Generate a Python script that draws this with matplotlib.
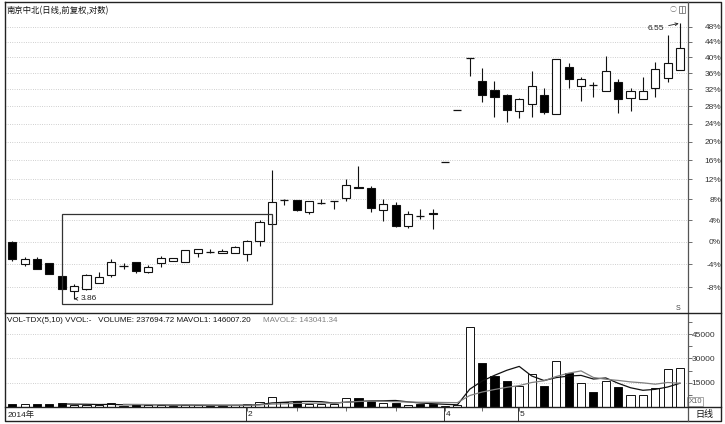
import numpy as np
import pandas as pd
import matplotlib
matplotlib.use("Agg")
import matplotlib.pyplot as plt
from matplotlib.patches import Rectangle

plt.rcParams['font.family'] = ['Liberation Sans', 'Noto Sans CJK SC', 'DejaVu Sans']

# ---------------- data (percent change vs. base, log scale) ----------------
OPEN = [0.0, -4.0, -3.2, -3.9, -6.0, -8.6, -8.3, -7.2, -5.9, -4.4,
        -3.7, -5.4, -3.8, -3.5, -3.6, -2.1, -1.9, -2.0, -2.0, -2.25,
        0.1, 3.2, 7.9, 7.9, 5.6, 7.3, 7.7, 8.2, 10.5, 10.2,
        5.9, 6.9, 2.9, 4.9, 5.3, 15.6, 27.2, 39.9, 34.0, 31.8,
        30.65, 27.0, 28.45, 30.65, 26.2, 37.6, 32.9, 33.1, 31.7, 33.9,
        30.0, 29.6, 32.3, 34.7, 36.75]
HIGH = [0.1, -2.8, -2.8, -3.9, -6.0, -7.5, -5.8, -5.4, -3.2, -3.9,
        -3.7, -4.2, -2.6, -3.0, -1.5, -1.4, -1.4, -1.4, -0.8, 0.3,
        4.0, 13.9, 8.1, 7.9, 7.7, 8.1, 7.7, 12.2, 14.8, 10.7,
        8.1, 7.4, 5.7, 6.2, 6.2, 15.6, 27.2, 39.9, 37.2, 34.1,
        30.9, 29.9, 36.6, 32.3, 39.4, 38.6, 34.9, 33.9, 40.3, 34.5,
        32.3, 34.9, 38.7, 45.8, 48.85]
LOW = [-3.5, -4.4, -4.8, -5.8, -8.5, -9.9, -8.5, -7.2, -6.3, -4.9,
       -5.6, -5.6, -4.6, -3.5, -3.6, -2.7, -2.1, -2.1, -2.0, -3.4,
       -0.8, 3.2, 6.9, 5.7, 5.1, 7.1, 6.05, 7.7, 10.2, 5.5,
       3.8, 2.7, 2.55, 4.2, 2.3, 15.6, 27.2, 35.3, 29.1, 25.6,
       24.4, 25.2, 25.6, 26.2, 26.2, 32.4, 29.3, 30.1, 31.7, 26.4,
       27.0, 29.6, 30.2, 33.9, 36.75]
CLOSE = [-3.2, -3.2, -4.8, -5.8, -8.35, -7.8, -5.9, -6.2, -3.7, -4.4,
         -5.2, -4.5, -2.9, -3.0, -1.5, -1.4, -1.9, -1.7, -1.05, 0.1,
         3.7, 7.4, 7.9, 5.9, 7.7, 7.3, 7.7, 10.9, 10.2, 6.4,
         7.2, 2.9, 5.1, 4.8, 5.1, 15.6, 27.2, 39.9, 30.65, 30.1,
         27.1, 29.6, 32.8, 26.7, 39.4, 34.5, 34.5, 33.0, 36.6, 29.6,
         31.6, 31.6, 36.9, 38.4, 42.3]
VOLUME = [20000, 18000, 19000, 17000, 22000, 12000, 15000, 10000, 22000, 9000,
          15000, 10000, 12000, 8000, 15000, 10000, 8000, 9000, 12000, 16000,
          29000, 60000, 29000, 35000, 20000, 20000, 18000, 56000, 56000, 39000,
          25000, 25000, 14000, 20000, 18000, 6000, 10000, 496000, 271000, 194000,
          162500, 129000, 202500, 129000, 285000, 209000, 150000, 90000, 162500, 121000,
          71000, 71000, 119000, 234000, 237694.72]

PCT_TICKS = [48, 44, 40, 36, 32, 28, 24, 20, 16, 12, 8, 4, 0, -4, -8]
PCT_YLIM = (-12.2, 54.8)
VOL_TICKS = [150000, 300000, 450000]
VOL_TICK_LABELS = ["15000", "30000", "45000"]
VOL_MINOR = [75000, 225000, 375000, 525000]
VOL_YMAX = 580000
MONTH_LABELS = ["2014年", "2", "4", "5"]
MONTH_IDX = [0, 19, 35, 41]
MINOR_IDX = [19, 23, 27, 31, 35, 38, 41]
LOW_LABEL, LOW_IDX = "3.86", 5
HIGH_LABEL, HIGH_IDX = "6.55", 54
BOX_START, BOX_END, BOX_LOW, BOX_HIGH = 4, 21, -10.7, 5.1
TITLE = "南京中北(日线,前复权,对数)"
VOL_HEADER = "VOL-TDX(5,10) VVOL:-   VOLUME: 237694.72 MAVOL1: 146007.20"
VOL_HEADER2 = "MAVOL2: 143041.34"


def T(p):
    return np.log1p(np.asarray(p, dtype=float) / 100.0)


W, H = 725, 424
fig = plt.figure(figsize=(W / 100, H / 100), dpi=100, facecolor='white')


def rect(x0, y0, x1, y1):
    return [x0 / W, 1 - y1 / H, (x1 - x0) / W, (y1 - y0) / H]


ax_p = fig.add_axes(rect(5, 2, 688, 313))
ax_v = fig.add_axes(rect(5, 313, 688, 407))
ax_d = fig.add_axes(rect(5, 407, 688, 421))
XLIM = (-0.59, 54.65)
n = len(CLOSE)
idx = np.arange(n)
o, h, l, c = (np.array(a, float) for a in (OPEN, HIGH, LOW, CLOSE))
v = np.array(VOLUME, float)
up = c >= o
BW = 0.66
EC = '#111111'
GRID = dict(color='#b4b4b4', lw=0.55, ls=(0, (1, 2)), zorder=0)

for ax in (ax_p, ax_v, ax_d):
    ax.set_xlim(*XLIM)
    for s in ax.spines.values():
        s.set_visible(False)
    ax.set_xticks([])
    ax.patch.set_alpha(0)

# ---------------- price panel ----------------
ax_p.set_ylim(T(PCT_YLIM[0]), T(PCT_YLIM[1]))
for yv in T(PCT_TICKS):
    ax_p.axhline(yv, **GRID)
ax_p.vlines(idx, T(l), T(h), color=EC, lw=0.8, zorder=2)
for i in range(n):
    b0, b1 = T(min(o[i], c[i])), T(max(o[i], c[i]))
    if b1 - b0 < 0.0015:
        ax_p.hlines((b0 + b1) / 2, i - BW / 2, i + BW / 2, color=EC, lw=0.9, zorder=3)
    else:
        ax_p.add_patch(Rectangle((i - BW / 2, b0), BW, b1 - b0,
                                 facecolor='white' if up[i] else 'black',
                                 edgecolor=EC, lw=0.8, zorder=3))
ax_p.add_patch(Rectangle((BOX_START, T(BOX_LOW)), BOX_END - BOX_START,
                         T(BOX_HIGH) - T(BOX_LOW), fill=False,
                         edgecolor='#333333', lw=0.9, zorder=4))
ax_p.annotate(LOW_LABEL, xy=(LOW_IDX, T(l[LOW_IDX])), xytext=(LOW_IDX + 0.55, T(l[LOW_IDX])),
              fontsize=6, ha='left', va='center', color='#222222',
              arrowprops=dict(arrowstyle='->', lw=0.6, color='#222222',
                              shrinkA=1, shrinkB=0, mutation_scale=5))
ax_p.annotate(HIGH_LABEL, xy=(HIGH_IDX - 0.1, T(h[HIGH_IDX])), xytext=(52.75, T(47.6)),
              fontsize=6, ha='right', va='center', color='#222222',
              arrowprops=dict(arrowstyle='->', lw=0.6, color='#222222',
                              shrinkA=1, shrinkB=0, mutation_scale=5))
ax_p.yaxis.tick_right()
ax_p.set_yticks(T(PCT_TICKS))
ax_p.set_yticklabels([f"{p}%" for p in PCT_TICKS])
ax_p.tick_params(axis='y', length=3, width=0.6, color='#555555',
                 pad=20.9, labelsize=6, labelcolor='#333333')
for lab in ax_p.get_yticklabels():
    lab.set_horizontalalignment('right')

# ---------------- volume panel ----------------
ax_v.set_ylim(0, VOL_YMAX)
for yv in VOL_TICKS:
    ax_v.axhline(yv, **GRID)
ax_v.bar(idx, v, width=BW, color=np.where(up, 'white', 'black'),
         edgecolor=EC, lw=0.7, zorder=2)
ma5 = pd.Series(v).rolling(5).mean()
ma10 = pd.Series(v).rolling(10).mean()
ax_v.plot(idx, ma5, color='#111111', lw=0.9, zorder=3)
ax_v.plot(idx, ma10, color='#808080', lw=0.9, zorder=3)
ax_v.yaxis.tick_right()
ax_v.set_yticks(VOL_TICKS)
ax_v.set_yticklabels(VOL_TICK_LABELS)
ax_v.set_yticks(VOL_MINOR, minor=True)
ax_v.tick_params(axis='y', which='both', length=3, width=0.6, color='#555555',
                 pad=16.6, labelsize=6, labelcolor='#333333')
for lab in ax_v.get_yticklabels():
    lab.set_horizontalalignment('right')

# ---------------- date strip ----------------
ax_d.set_ylim(0, 1)
ax_d.set_yticks([])
for lbl, mi in zip(MONTH_LABELS, MONTH_IDX):
    if mi == 0:
        ax_d.text(-0.35, 0.45, lbl, fontsize=6, ha='left', va='center', color='#222222')
    else:
        ax_d.vlines(mi - 0.12, 0, 1, color='#333333', lw=0.7)
        ax_d.text(mi + 0.05, 0.45, lbl, fontsize=6, ha='left', va='center', color='#222222')
ax_d.vlines(MINOR_IDX, 0.72, 1.0, color='#555555', lw=0.6)

# ---------------- frame & labels (pixel overlay) ----------------
bg = fig.add_axes([0, 0, 1, 1])
bg.set_xlim(0, W)
bg.set_ylim(H, 0)
bg.axis('off')
bg.patch.set_alpha(0)
bg.set_zorder(10)
lk = dict(color='#222222', lw=1.0)
bg.plot([5, 721, 721, 5, 5], [2, 2, 421, 421, 2], **lk)
bg.plot([688, 688], [2, 421], color='#555555', lw=0.9)
bg.plot([5, 721], [313, 313], **lk)
bg.plot([5, 721], [407, 407], **lk)
bg.text(7, 11, TITLE, fontsize=6, ha='left', va='center', color='#111111',
        family=['Noto Sans CJK SC', 'DejaVu Sans'])
bg.text(7, 321, VOL_HEADER, fontsize=5.8, ha='left', va='center', color='#111111')
bg.text(263, 321, VOL_HEADER2, fontsize=5.8, ha='left', va='center', color='#808080')
bg.text(673.5, 9.5, "○", fontsize=5, ha='center', va='center', color='#777777',
        family=['Noto Sans CJK SC', 'DejaVu Sans'])
bg.add_patch(Rectangle((679, 6), 6, 7, fill=False, edgecolor='#777777', lw=0.6))
bg.plot([682, 682], [6, 13], color='#777777', lw=0.6)
bg.text(678, 309, "S", fontsize=5, ha='center', va='center', color='#444444')
bg.add_patch(Rectangle((687.5, 397), 16, 8.5, fill=False, edgecolor='#999999', lw=0.6))
bg.text(695.5, 401.3, "X10", fontsize=5.5, ha='center', va='center', color='#666666')
bg.text(704.5, 414.5, "日线", fontsize=6.5, ha='center', va='center', color='#111111',
        family=['Noto Sans CJK SC', 'DejaVu Sans'])

fig.savefig("out.png", dpi=100, facecolor='white')
